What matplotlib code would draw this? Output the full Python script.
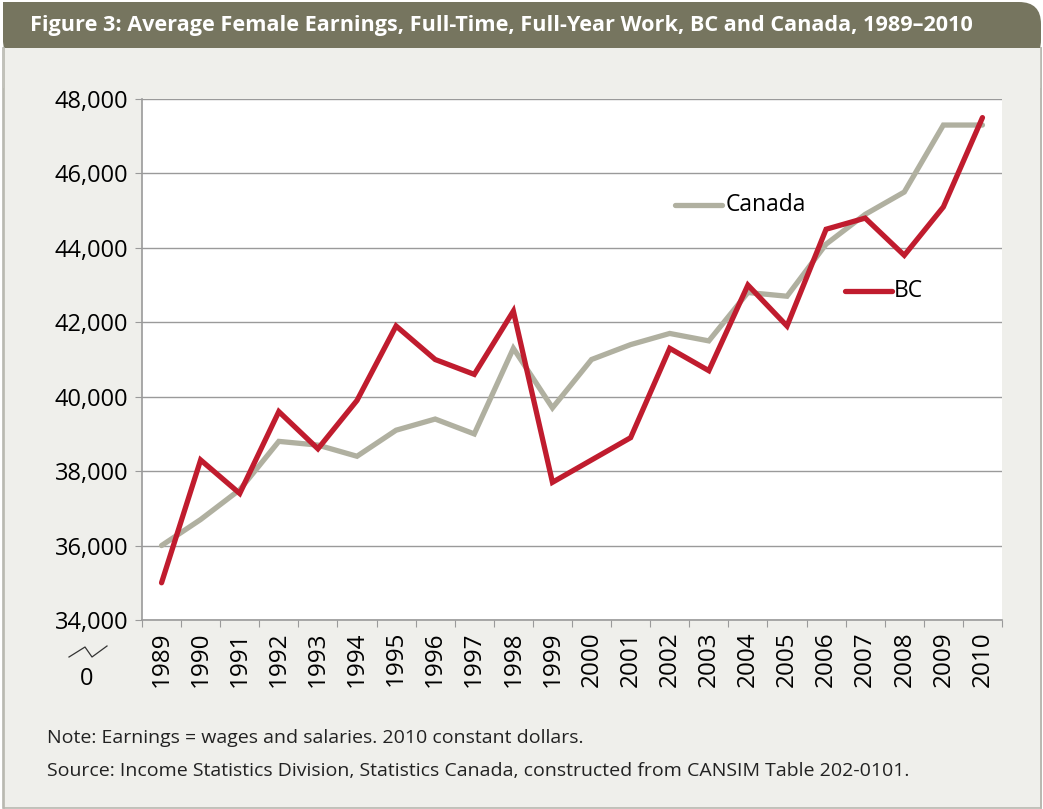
import matplotlib.pyplot as plt
import matplotlib.patches as patches

# data (2010 constant dollars)
years = list(range(1989, 2011))
canada = [36000, 36700, 37500, 38800, 38700, 38400, 39100, 39400, 39000, 41300, 39700,
          41000, 41400, 41700, 41500, 42800, 42700, 44100, 44900, 45500, 47300, 47300]
bc = [35000, 38300, 37400, 39600, 38600, 39900, 41900, 41000, 40600, 42300, 37700,
      38300, 38900, 41300, 40700, 43000, 41900, 44500, 44800, 43800, 45100, 47500]
y_ticks = [34000, 36000, 38000, 40000, 42000, 44000, 46000, 48000]

title = "Figure 3: Average Female Earnings, Full-Time, Full-Year Work, BC and Canada, 1989\u20132010"
note = "Note: Earnings = wages and salaries. 2010 constant dollars."
source = "Source: Income Statistics Division, Statistics Canada, constructed from CANSIM Table 202-0101."

bar_col = "#76755f"
panel_col = "#efefeb"
canada_col = "#b0b0a0"
bc_col = "#c01c2e"
grid_col = "#9a9a9a"

plt.rcParams['font.family'] = ['Open Sans', 'DejaVu Sans']

W, H = 1043, 809
fig = plt.figure(figsize=(W / 100, H / 100), dpi=100)
fig.patch.set_facecolor("white")

# background panel + title bar, drawn in pixel coords
bg = fig.add_axes([0, 0, 1, 1])
bg.set_xlim(0, W)
bg.set_ylim(H, 0)
bg.axis('off')
bg.add_patch(patches.Rectangle((3, 48), 1038, 760, facecolor=panel_col,
                               edgecolor="#b8b8b0", linewidth=1.2))
bg.add_patch(patches.FancyBboxPatch((3, 2), 1038, 60, boxstyle="round,pad=0,rounding_size=22",
                                    facecolor=bar_col, edgecolor="none"))
bg.add_patch(patches.Rectangle((3, 2), 40, 40, facecolor=bar_col, edgecolor="none"))
bg.add_patch(patches.Rectangle((3, 48), 1038, 40, facecolor=panel_col, edgecolor="none"))
bg.plot([3.5, 3.5], [48, 808], color="#b8b8b0", lw=1.2)
bg.plot([1040.5, 1040.5], [48, 808], color="#b8b8b0", lw=1.2)
bg.text(30, 25, title, color="white", fontsize=15.6, fontweight="bold", va="center", ha="left")
bg.text(47, 738, note, fontsize=14, va="center", ha="left", color="#222222")
bg.text(47, 771, source, fontsize=14, va="center", ha="left", color="#222222")

# axis break mark and "0"
bg.plot([69, 85, 92, 107], [657, 647, 657, 646], color="#333333", lw=0.9)
bg.text(87, 679, "0", fontsize=17, ha="center", va="center")

ax = fig.add_axes([142 / W, 1 - 620 / H, 860 / W, 521 / H])
ax.set_facecolor("white")
x = list(range(len(years)))
ax.plot(x, canada, color=canada_col, lw=3.8, solid_capstyle="round", solid_joinstyle="miter", zorder=3)
ax.plot(x, bc, color=bc_col, lw=3.8, solid_capstyle="round", solid_joinstyle="miter", zorder=4)

ax.set_xlim(-0.5, len(years) - 0.5)
ax.set_ylim(34000, 48000)
ax.set_yticks(y_ticks)
ax.set_yticklabels([f"{v:,}" for v in y_ticks], fontsize=17)
ax.yaxis.grid(True, color=grid_col, lw=1.0)
ax.set_axisbelow(True)
ax.set_xticks([i - 0.5 for i in range(len(years) + 1)])
ax.set_xticklabels([])
ax.set_xticks(x, minor=True)
ax.set_xticklabels([str(yr) for yr in years], minor=True, rotation=90, fontsize=17.5)
ax.tick_params(axis='x', which='minor', length=0, pad=8)
ax.tick_params(axis='x', which='major', length=5, color=grid_col)
ax.tick_params(axis='y', length=5, color=grid_col, pad=5)
for side in ['top', 'right']:
    ax.spines[side].set_visible(False)
for side in ['left', 'bottom']:
    ax.spines[side].set_color(grid_col)
    ax.spines[side].set_linewidth(1.2)

# inline legend labels
ax.plot([13.13, 14.33], [45150, 45150], color=canada_col, lw=3.8, solid_capstyle="round", clip_on=False)
ax.text(14.42, 45150, "Canada", fontsize=16.5, va="center", ha="left")
ax.plot([17.48, 18.68], [42850, 42850], color=bc_col, lw=3.8, solid_capstyle="round", clip_on=False)
ax.text(18.74, 42850, "BC", fontsize=16.5, va="center", ha="left")

fig.savefig("out.png", dpi=100, facecolor=fig.get_facecolor())
